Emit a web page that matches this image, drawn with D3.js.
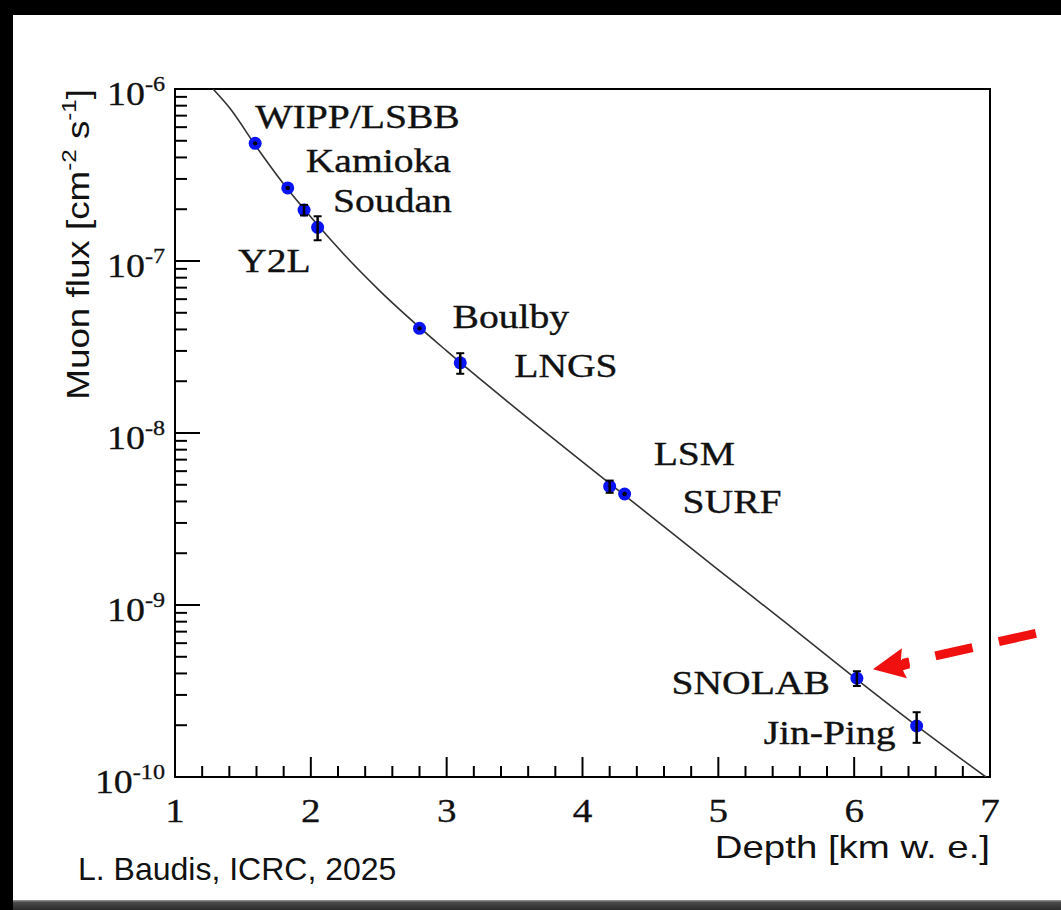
<!DOCTYPE html>
<html>
<head>
<meta charset="utf-8">
<script src="https://cdn.jsdelivr.net/npm/d3@7"></script>
<style>
  html, body { margin: 0; padding: 0; background: #000; }
  svg { display: block; }
</style>
</head>
<body>
<svg id="chart" width="1061" height="910"></svg>
<script>
// ---------------- data ----------------
const sites   = ["WIPP/LSBB", "Kamioka", "Soudan", "Y2L", "Boulby", "LNGS", "LSM", "SURF", "SNOLAB", "Jin-Ping"];
const depth   = [1.59, 1.83, 1.95, 2.05, 2.80, 3.10, 4.20, 4.31, 6.02, 6.46];          // km w.e.
const flux    = [4.83e-7, 2.66e-7, 1.98e-7, 1.57e-7, 4.06e-8, 2.56e-8, 4.89e-9, 4.42e-9, 3.75e-10, 1.98e-10];
const fluxErr = [0, 0, 0.14e-7, 0.25e-7, 0, 0.35e-8, 0.4e-9, 0, 0.37e-10, 0.40e-10];

// fit curve
const curveDepth = [1.28, 1.4, 1.6, 1.8, 2.0, 2.25, 2.5, 3.0, 3.5, 4.0, 4.5, 5.0, 5.5, 6.0, 6.5, 6.97];
const curveFlux  = [1.0e-6, 7.8e-7, 4.6e-7, 2.8e-7, 1.8e-7, 1.08e-7, 6.8e-8, 3.0e-8, 1.41e-8, 6.8e-9, 3.3e-9, 1.6e-9, 7.85e-10, 3.8e-10, 1.88e-10, 1.0e-10];

const xTicks = [1, 2, 3, 4, 5, 6, 7];
const yTickExp = [-6, -7, -8, -9, -10];

// ---------------- layout ----------------
const svg = d3.select("#chart");
const W = 1061, H = 910;
const plot = { left: 175, right: 990, top: 89, bottom: 777 };
const SX = 1.15;  // horizontal stretch of tick labels
const SXL = 1.2;  // horizontal stretch of titles / site labels

// page background
svg.append("rect").attr("x", 13).attr("y", 15).attr("width", W - 13).attr("height", H - 15).attr("fill", "#fff");
const grad = svg.append("defs").append("linearGradient").attr("id", "band").attr("x1", 0).attr("y1", 0).attr("x2", 0).attr("y2", 1);
grad.append("stop").attr("offset", "0%").attr("stop-color", "#9a9a9a");
grad.append("stop").attr("offset", "25%").attr("stop-color", "#4a4a4a");
grad.append("stop").attr("offset", "100%").attr("stop-color", "#2b2b2b");
svg.append("rect").attr("x", 13).attr("y", 900).attr("width", W - 13).attr("height", 10).attr("fill", "url(#band)");

const x = d3.scaleLinear().domain([1, 7]).range([plot.left, plot.right]);
const y = d3.scaleLog().domain([1e-10, 1e-6]).range([plot.bottom, plot.top]);

const serif = "'Liberation Serif', 'Times New Roman', serif";
const sans = "'Liberation Sans', Arial, sans-serif";

// ---------------- ticks ----------------
const g = svg.append("g");
const xMinor = d3.range(1, 7.0001, 0.2);
g.selectAll(".xt").data(xMinor).join("line")
  .attr("x1", d => x(d)).attr("x2", d => x(d))
  .attr("y1", plot.bottom)
  .attr("y2", d => Math.abs(d - Math.round(d)) < 1e-6 ? plot.bottom - 20 : plot.bottom - 11)
  .attr("stroke", "#000").attr("stroke-width", 2);

const yMinor = [];
for (let e = -10; e < -6; e++) for (let m = 1; m <= 9; m++) yMinor.push(m * Math.pow(10, e));
yMinor.push(1e-6);
g.selectAll(".yt").data(yMinor).join("line")
  .attr("y1", d => y(d)).attr("y2", d => y(d))
  .attr("x1", plot.left)
  .attr("x2", d => {
    const l = Math.log10(d);
    return Math.abs(l - Math.round(l)) < 1e-6 ? plot.left + 25 : plot.left + 12;
  })
  .attr("stroke", "#000").attr("stroke-width", 2);

// frame
g.append("rect").attr("x", plot.left).attr("y", plot.top)
  .attr("width", plot.right - plot.left).attr("height", plot.bottom - plot.top)
  .attr("fill", "none").attr("stroke", "#000").attr("stroke-width", 2);

// x tick labels
g.selectAll(".xl").data(xTicks).join("text")
  .attr("transform", d => `translate(${x(d)},822) scale(${SX},1)`)
  .attr("text-anchor", "middle")
  .attr("font-family", serif).attr("font-size", 34).attr("fill", "#111")
  .attr("stroke", "#111").attr("stroke-width", 0.3)
  .text(d => d);

// y tick labels 10^n
yTickExp.forEach(e => {
  const t = g.append("text")
    .attr("transform", `translate(165,${y(Math.pow(10, e)) + 16}) scale(${SX},1)`)
    .attr("text-anchor", "end")
    .attr("font-family", serif).attr("font-size", 33).attr("fill", "#111")
    .attr("stroke", "#111").attr("stroke-width", 0.3);
  t.append("tspan").text("10");
  t.append("tspan").attr("font-size", 21).attr("dy", -14).text(e);
});

// axis titles
g.append("text")
  .attr("transform", `translate(990,858) scale(${SXL},1)`)
  .attr("text-anchor", "end")
  .attr("font-family", sans).attr("font-size", 32).attr("fill", "#111")
  .text("Depth [km w. e.]");

const yt = g.append("text")
  .attr("transform", `translate(89,89) rotate(-90) scale(${SX},1)`)
  .attr("text-anchor", "end")
  .attr("font-family", sans).attr("font-size", 32).attr("fill", "#111");
yt.append("tspan").text("Muon flux [cm");
yt.append("tspan").attr("font-size", 21).attr("dy", -13).text("-2");
yt.append("tspan").attr("dy", 13).text(" s");
yt.append("tspan").attr("font-size", 21).attr("dy", -13).text("-1");
yt.append("tspan").attr("dy", 13).text("]");

// ---------------- curve ----------------
svg.append("clipPath").attr("id", "clip").append("rect")
  .attr("x", plot.left).attr("y", plot.top).attr("width", plot.right - plot.left).attr("height", plot.bottom - plot.top);
const line = d3.line().x((d, i) => x(curveDepth[i])).y((d, i) => y(curveFlux[i])).curve(d3.curveMonotoneX);
svg.append("path").datum(curveDepth)
  .attr("d", line).attr("fill", "none").attr("stroke", "#333").attr("stroke-width", 1.6)
  .attr("clip-path", "url(#clip)");

// ---------------- points ----------------
const pts = sites.map((s, i) => ({ s, d: depth[i], f: flux[i], e: fluxErr[i] }));
svg.selectAll(".pt").data(pts).join("circle")
  .attr("cx", d => x(d.d)).attr("cy", d => y(d.f)).attr("r", 6.5)
  .attr("fill", "#0a14f0");
const eb = svg.selectAll(".eb").data(pts.filter(d => d.e > 0)).join("g");
eb.append("line").attr("x1", d => x(d.d)).attr("x2", d => x(d.d))
  .attr("y1", d => y(d.f + d.e)).attr("y2", d => y(d.f - d.e)).attr("stroke", "#000").attr("stroke-width", 2.5);
eb.append("line").attr("x1", d => x(d.d) - 4).attr("x2", d => x(d.d) + 4)
  .attr("y1", d => y(d.f + d.e)).attr("y2", d => y(d.f + d.e)).attr("stroke", "#000").attr("stroke-width", 2);
eb.append("line").attr("x1", d => x(d.d) - 4).attr("x2", d => x(d.d) + 4)
  .attr("y1", d => y(d.f - d.e)).attr("y2", d => y(d.f - d.e)).attr("stroke", "#000").attr("stroke-width", 2);
svg.selectAll(".ctr").data(pts.filter(d => d.e === 0)).join("circle")
  .attr("cx", d => x(d.d)).attr("cy", d => y(d.f)).attr("r", 2.2).attr("fill", "#000");

// ---------------- site labels ----------------
// offsets (px) from each point: [dx, dy, anchor]
const labelOffsets = [[0, -15, "start"], [18, -16, "start"], [29, 2, "start"], [-7, 45, "end"], [33, 0, "start"],
                      [54, 14, "start"], [44, -21, "start"], [58, 19, "start"], [-27, 16, "end"], [-21, 18, "end"]];
svg.selectAll(".lbl").data(pts).join("text")
  .attr("transform", (d, i) => `translate(${x(d.d) + labelOffsets[i][0]},${y(d.f) + labelOffsets[i][1]}) scale(${SXL},1)`)
  .attr("text-anchor", (d, i) => labelOffsets[i][2])
  .attr("font-family", serif).attr("font-size", 33).attr("fill", "#111")
  .attr("stroke", "#111").attr("stroke-width", 0.35)
  .text(d => d.s);

// ---------------- red dashed arrow toward SNOLAB ----------------
const sn = pts[8];
const tipX = x(sn.d) + 16, tipY = y(sn.f) - 9;
svg.append("line")
  .attr("x1", tipX + 163).attr("y1", tipY - 36)
  .attr("x2", tipX + 30).attr("y2", tipY - 6)
  .attr("stroke", "#f01010").attr("stroke-width", 9).attr("stroke-dasharray", "38,27");
svg.append("polygon")
  .attr("points", [[tipX, tipY], [tipX + 29, tipY - 21], [tipX + 28, tipY - 9], [tipX + 36, tipY - 11], [tipX + 37, tipY - 1], [tipX + 30, tipY + 1], [tipX + 34, tipY + 9]].map(p => p.join(",")).join(" "))
  .attr("fill", "#f01010");

// ---------------- footer ----------------
svg.append("text").attr("x", 78).attr("y", 880)
  .attr("font-family", sans).attr("font-size", 32).attr("fill", "#111")
  .text("L. Baudis, ICRC, 2025");
</script>
</body>
</html>
